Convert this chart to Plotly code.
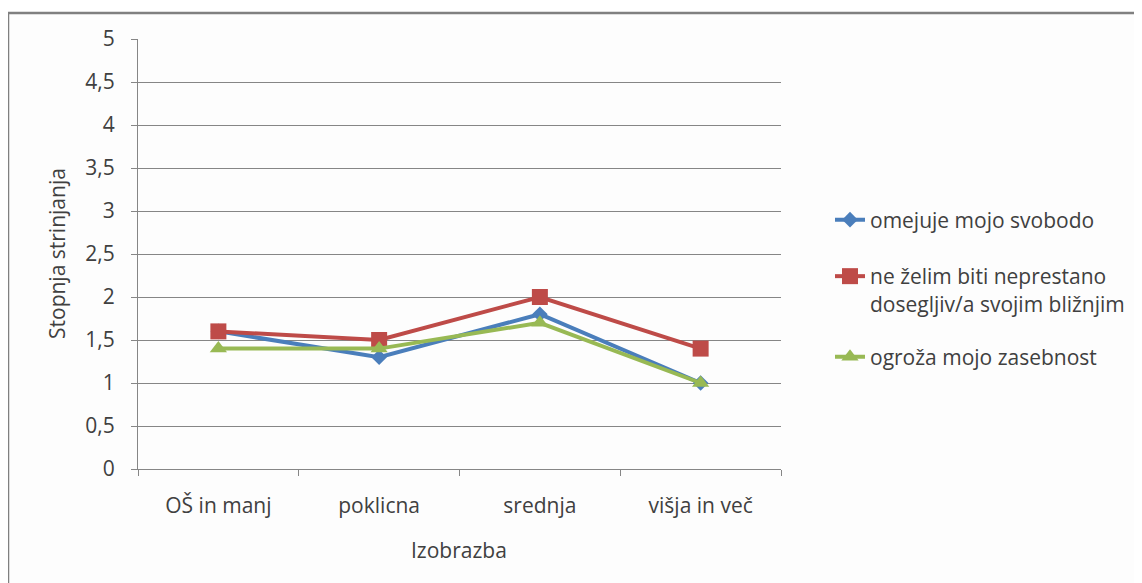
import plotly.graph_objects as go

categories = ["OŠ in manj", "poklicna", "srednja", "višja in več"]
omejuje = [1.6, 1.3, 1.8, 1.0]
ne_zelim = [1.6, 1.5, 2.0, 1.4]
ogroza = [1.4, 1.4, 1.7, 1.0]
names = ["omejuje mojo svobodo",
         "ne želim biti neprestano<br>dosegljiv/a svojim bližnjim",
         "ogroža mojo zasebnost"]
y_ticks = [0, 0.5, 1, 1.5, 2, 2.5, 3, 3.5, 4, 4.5, 5]
y_tick_text = ["0", "0,5", "1", "1,5", "2", "2,5", "3", "3,5", "4", "4,5", "5"]

FONT = "'Open Sans', sans-serif"
TXT = "#404040"
FS = 21

fig = go.Figure()
fig.add_trace(go.Scatter(x=categories, y=omejuje, name=names[0], mode="lines+markers",
                         line=dict(color="#4A7EBB", width=4),
                         marker=dict(symbol="diamond", size=12, color="#4A7EBB"),
                         legend="legend"))
fig.add_trace(go.Scatter(x=categories, y=ne_zelim, name=names[1], mode="lines+markers",
                         line=dict(color="#BE4B48", width=4),
                         marker=dict(symbol="square", size=16, color="#BE4B48"),
                         legend="legend2"))
fig.add_trace(go.Scatter(x=categories, y=ogroza, name=names[2], mode="lines+markers",
                         line=dict(color="#98B954", width=4),
                         marker=dict(symbol="triangle-up", size=15, color="#98B954"),
                         legend="legend3"))

OFF = 8  # page body margin
L, R, T, B = 138, 781, 39, 469
W, H = 1142 - OFF, 583 - OFF

def px(x):
    return (x - L) / (R - L)

def py(y):
    return (B - y) / (B - T)

leg_common = dict(font=dict(family=FONT, size=FS, color=TXT), bgcolor="rgba(0,0,0,0)",
                  xanchor="left", yanchor="middle", valign="top", x=px(830))

fig.update_layout(
    width=W, height=H,
    margin=dict(l=L - OFF, r=1142 - R, t=T - OFF, b=583 - B),
    paper_bgcolor="white", plot_bgcolor="#FDFDFD",
    font=dict(family=FONT, size=FS, color=TXT),
    showlegend=True,
    legend=dict(**leg_common, y=py(220)),
    legend2=dict(**leg_common, y=py(290)),
    legend3=dict(**leg_common, y=py(357)),
    xaxis=dict(type="category", range=[-0.5, 3.5], showgrid=False,
               showline=True, linecolor="#868686", linewidth=1,
               ticks="outside", tickson="boundaries", ticklen=6, tickcolor="#868686",
               ticklabelstandoff=18,
               tickfont=dict(family=FONT, size=FS, color=TXT)),
    yaxis=dict(range=[0, 5], tickvals=y_ticks, ticktext=y_tick_text,
               showgrid=True, gridcolor="#868686", gridwidth=1,
               showline=True, linecolor="#868686", linewidth=1,
               ticks="outside", ticklen=6, tickcolor="#868686",
               ticklabelstandoff=12,
               zeroline=False,
               tickfont=dict(family=FONT, size=FS, color=TXT)),
    shapes=[dict(type="rect", xref="paper", yref="paper",
                 x0=px(8), x1=px(1160), y0=py(600), y1=py(13),
                 line=dict(color="#808080", width=2.5), fillcolor="rgba(253,253,253,1)",
                 layer="below")],
    annotations=[
        dict(text="Izobrazba", xref="paper", yref="paper", x=px(459), y=py(550),
             showarrow=False, font=dict(family=FONT, size=FS, color=TXT),
             xanchor="center", yanchor="middle"),
        dict(text="Stopnja strinjanja", xref="paper", yref="paper", x=px(57), y=py(254),
             showarrow=False, textangle=-90, font=dict(family=FONT, size=FS, color=TXT),
             xanchor="center", yanchor="middle"),
    ],
)

fig.write_html("out.html")
